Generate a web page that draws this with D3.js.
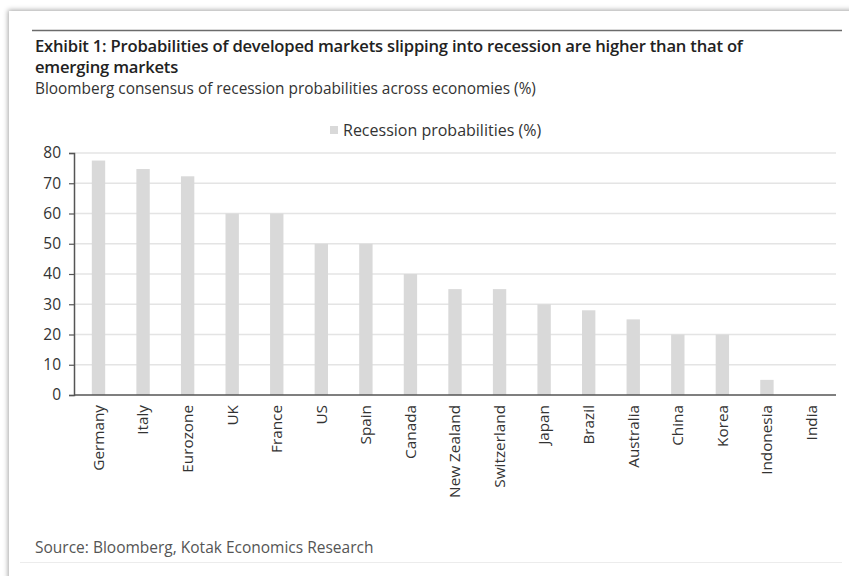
<!DOCTYPE html>
<html>
<head>
<meta charset="utf-8">
<script src="https://cdn.jsdelivr.net/npm/d3@7"></script>
<style>
  body { margin: 0; background: #ffffff; }
  svg { display: block; font-family: "Open Sans", sans-serif; }
</style>
</head>
<body>
<div id="chart"></div>
<script>
// chart data
const categories = ["Germany", "Italy", "Eurozone", "UK", "France", "US", "Spain", "Canada",
    "New Zealand", "Switzerland", "Japan", "Brazil", "Australia", "China", "Korea", "Indonesia", "India"];
const probabilities = [77.5, 74.7, 72.3, 60, 60, 50, 50, 40, 35, 35, 30, 28, 25, 20, 20, 5, 0];
const yTicks = [0, 10, 20, 30, 40, 50, 60, 70, 80];

const seriesName = "Recession probabilities (%)";
const titleLines = ["Exhibit 1: Probabilities of developed markets slipping into recession are higher than that of",
    "emerging markets"];
const subtitle = "Bloomberg consensus of recession probabilities across economies (%)";
const source = "Source: Bloomberg, Kotak Economics Research";

const width = 849, height = 576;
const margin = {top: 153, right: 13, bottom: 181, left: 74};

let svg = d3.select("#chart")
    .append("svg")
    .attr("width", width)
    .attr("height", height);

// card shadow
let defs = svg.append("defs");
let filter = defs.append("filter").attr("id", "shadow")
    .attr("x", "-5%").attr("y", "-5%").attr("width", "110%").attr("height", "110%");
filter.append("feGaussianBlur").attr("in", "SourceAlpha").attr("stdDeviation", 2.5);
filter.append("feOffset").attr("dx", -1).attr("dy", -1).attr("result", "blur");
filter.append("feFlood").attr("flood-color", "#000").attr("flood-opacity", 0.35);
filter.append("feComposite").attr("in2", "blur").attr("operator", "in");
let merge = filter.append("feMerge");
merge.append("feMergeNode");
merge.append("feMergeNode").attr("in", "SourceGraphic");

svg.append("rect")
    .attr("x", 9).attr("y", 11)
    .attr("width", 860).attr("height", 600)
    .attr("fill", "#fff")
    .attr("filter", "url(#shadow)");

// top rule
svg.append("line")
    .attr("x1", 32).attr("x2", 842)
    .attr("y1", 30.5).attr("y2", 30.5)
    .attr("stroke", "#6b6b6b").attr("stroke-width", 1.5);

// title
svg.append("g").selectAll("text")
    .data(titleLines)
    .join("text")
    .attr("x", 35)
    .attr("y", (d, i) => 52 + i * 21)
    .attr("font-size", 16.6)
    .attr("font-weight", 600)
    .attr("letter-spacing", -0.2)
    .attr("fill", "#222")
    .text(d => d);

svg.append("text")
    .attr("x", 35).attr("y", 94)
    .attr("font-size", 15.4)
    .attr("fill", "#333")
    .text(subtitle);

// scales
let xScale = d3.scaleBand()
    .domain(categories)
    .range([margin.left, width - margin.right])
    .paddingInner(0.7)
    .paddingOuter(0.4);

let yScale = d3.scaleLinear()
    .domain([0, 80])
    .range([height - margin.bottom, margin.top]);

// gridlines
svg.append("g")
    .selectAll("line")
    .data(yTicks.slice(1))
    .join("line")
    .attr("x1", margin.left)
    .attr("x2", width - margin.right)
    .attr("y1", d => yScale(d))
    .attr("y2", d => yScale(d))
    .attr("stroke", "#e4e4e4")
    .attr("stroke-width", 1.5);

// bars
svg.append("g")
    .selectAll("rect")
    .data(probabilities)
    .join("rect")
    .attr("x", (d, i) => xScale(categories[i]))
    .attr("y", d => yScale(d))
    .attr("width", xScale.bandwidth())
    .attr("height", d => yScale(0) - yScale(d))
    .attr("fill", "#d9d9d9");

// y axis
let yAxis = svg.append("g")
    .attr("transform", "translate(" + margin.left + ",0)")
    .call(d3.axisLeft(yScale).tickValues(yTicks).tickSize(5).tickPadding(8));
yAxis.select(".domain").attr("stroke", "#555").attr("stroke-width", 1.5);
yAxis.selectAll(".tick line").attr("stroke", "#555").attr("stroke-width", 1.2);
yAxis.selectAll(".tick text")
    .attr("font-size", 15.5)
    .attr("font-family", "Open Sans, sans-serif")
    .attr("fill", "#333");

// x axis
let xAxis = svg.append("g")
    .attr("transform", "translate(0," + yScale(0) + ")")
    .call(d3.axisBottom(xScale).tickSize(0).tickSizeOuter(0));
xAxis.select(".domain").attr("stroke", "#555").attr("stroke-width", 1.5)
    .attr("d", "M" + margin.left + ",0H" + (width - margin.right));
xAxis.selectAll(".tick text")
    .attr("font-size", 15.3)
    .attr("font-family", "Open Sans, sans-serif")
    .attr("fill", "#333")
    .attr("transform", "rotate(-90)")
    .attr("text-anchor", "end")
    .attr("x", -10)
    .attr("y", 0)
    .attr("dy", "0.35em");

// legend
let legend = svg.append("g").attr("transform", "translate(330,130)");
legend.append("rect")
    .attr("x", 0).attr("y", -4)
    .attr("width", 8).attr("height", 8)
    .attr("fill", "#d9d9d9");
legend.append("text")
    .attr("x", 13).attr("y", 0)
    .attr("dy", "0.35em")
    .attr("font-size", 16)
    .attr("fill", "#333")
    .text(seriesName);

// source
svg.append("text")
    .attr("x", 35).attr("y", 553)
    .attr("font-size", 15.5)
    .attr("fill", "#555")
    .text(source);

svg.append("line")
    .attr("x1", 20).attr("x2", 842)
    .attr("y1", 562.5).attr("y2", 562.5)
    .attr("stroke", "#ececec").attr("stroke-width", 1);
</script>
</body>
</html>
